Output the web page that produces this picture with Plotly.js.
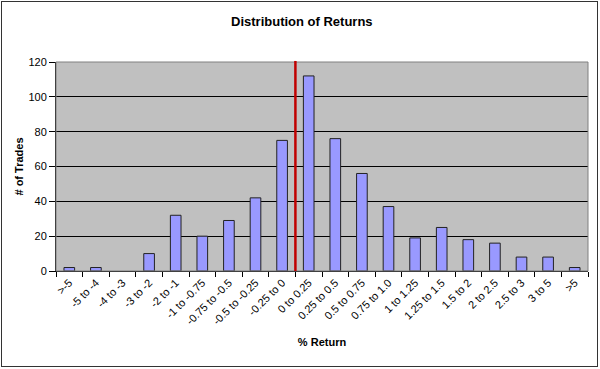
<!DOCTYPE html>
<html>
<head>
<meta charset="utf-8">
<script src="https://cdn.plot.ly/plotly-3.0.1.min.js"></script>
<style>
  html, body { margin: 0; padding: 0; background: #fff; }
  #wrap { position: relative; width: 600px; height: 369px; }
  #chart { width: 600px; height: 369px; }
  #frame { position: absolute; left: 1px; top: 1px; width: 597px; height: 366px; border: 1.5px solid #333; pointer-events: none; box-sizing: border-box; }
</style>
</head>
<body>
<div id="wrap">
  <div id="chart"></div>
  <div id="frame"></div>
</div>
<script>
const categories = [">-5", "-5 to -4", "-4 to -3", "-3 to -2", "-2 to -1", "-1 to -0.75", "-0.75 to -0.5", "-0.5 to -0.25", "-0.25 to 0", "0 to 0.25", "0.25 to 0.5", "0.5 to 0.75", "0.75 to 1.0", "1 to 1.25", "1.25 to 1.5", "1.5 to 2", "2 to 2.5", "2.5 to 3", "3 to 5", ">5"];
const trades = [2, 2, 0, 10, 32, 20, 29, 42, 75, 112, 76, 56, 37, 19, 25, 18, 16, 8, 8, 2];
const yTicks = [0, 20, 40, 60, 80, 100, 120];
const zeroBoundary = 8.5;

const trace = {
  type: 'bar',
  x: categories,
  y: trades,
  width: 0.4,
  marker: { color: '#9999FF', line: { color: '#222', width: trades.map(v => v > 0 ? 1 : 0) } },
  hoverinfo: 'x+y'
};

const layout = {
  width: 600, height: 369,
  margin: { l: 56, r: 12, t: 62, b: 98 },
  paper_bgcolor: '#ffffff',
  plot_bgcolor: '#C0C0C0',
  font: { family: 'Arial, "Liberation Sans", sans-serif', color: '#000', size: 11 },
  title: { text: '<b>Distribution of Returns</b>', font: { size: 13, color: '#000' }, x: 0.503, xanchor: 'center', y: 0.943, yanchor: 'middle' },
  showlegend: false,
  bargap: 0.6,
  xaxis: {
    type: 'category',
    tickson: 'boundaries',
    ticks: 'outside', ticklen: 5, tickcolor: '#000', tickwidth: 1,
    tickangle: -45,
    tickfont: { size: 11, color: '#000' },
    showline: true, linecolor: '#000', linewidth: 1,
    showgrid: false,
    range: [-0.5, categories.length - 0.5],
    title: { text: '<b>% Return</b>', font: { size: 11, color: '#000' }, standoff: 12 },
    automargin: false
  },
  yaxis: {
    range: [0, 120],
    tickvals: yTicks,
    ticks: 'outside', ticklen: 6, tickcolor: '#000',
    tickfont: { size: 11, color: '#000' },
    showline: true, linecolor: '#000', linewidth: 1,
    showgrid: true, gridcolor: '#000', gridwidth: 1,
    zeroline: false,
    title: { text: '<b># of Trades</b>', font: { size: 11, color: '#000' }, standoff: 2 },
    automargin: false
  },
  shapes: [
    { type: 'rect', xref: 'paper', yref: 'paper', x0: 0, x1: 1, y0: 0, y1: 1, line: { color: '#808080', width: 1 }, fillcolor: 'rgba(0,0,0,0)', layer: 'above' },
    { type: 'line', xref: 'x', yref: 'paper', x0: zeroBoundary, x1: zeroBoundary, y0: 0, y1: 1.005, line: { color: '#C00000', width: 2.5 }, layer: 'above' }
  ]
};

Plotly.newPlot('chart', [trace], layout, { displayModeBar: false, staticPlot: true });
</script>
</body>
</html>
